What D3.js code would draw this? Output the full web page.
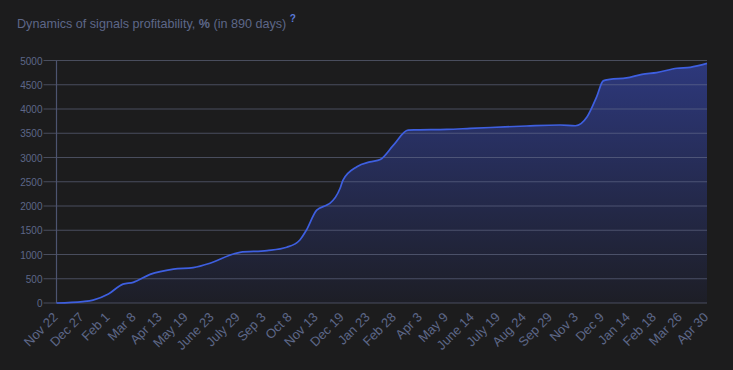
<!DOCTYPE html>
<html>
<head>
  <meta charset="utf-8" />
  <script src="https://d3js.org/d3.v7.min.js"></script>
  <style>
    body { margin: 0; background: #1c1c1d; }
    svg { display: block; font-family: "Liberation Sans", Arial, sans-serif; }
  </style>
</head>
<body>
  <svg id="chart" width="733" height="370"></svg>
  <script>
    // tick labels along the bottom (evenly spaced over the 890 days)
    const tickLabels = ["Nov 22", "Dec 27", "Feb 1", "Mar 8", "Apr 13", "May 19", "June 23", "July 29",
      "Sep 3", "Oct 8", "Nov 13", "Dec 19", "Jan 23", "Feb 28", "Apr 3", "May 9", "June 14", "July 19",
      "Aug 24", "Sep 29", "Nov 3", "Dec 9", "Jan 14", "Feb 18", "Mar 26", "Apr 30"];
    const totalDays = 890;

    // profitability series: day offset and value in %
    const days = [0, 36, 50, 71, 91, 105, 128, 160, 187, 210, 242, 251, 288, 315, 333, 342, 356, 370,
      374, 388, 392, 411, 429, 443, 461, 481, 493, 534, 566, 643, 689, 710, 726, 739, 748, 757, 780,
      801, 821, 849, 867, 890];
    const profit = [0, 30, 60, 185, 390, 425, 590, 700, 730, 820, 1010, 1045, 1080, 1150, 1300, 1505,
      1915, 2020, 2055, 2365, 2535, 2810, 2910, 2960, 3255, 3565, 3570, 3580, 3600, 3650, 3670, 3655,
      3840, 4250, 4580, 4610, 4640, 4715, 4750, 4840, 4860, 4940];

    const yTicks = d3.range(0, 5001, 500);

    const svg = d3.select("#chart");
    const margin = { top: 60.5, right: 26, bottom: 67, left: 56.5 };
    const width = 733, height = 370;

    const x = d3.scaleLinear().domain([0, totalDays]).range([margin.left, width - margin.right]);
    const y = d3.scaleLinear().domain([0, 5000]).range([height - margin.bottom, margin.top]);

    const data = days.map((d, i) => ({ day: d, value: profit[i] }));

    // title
    const title = svg.append("text")
      .attr("x", 17).attr("y", 28)
      .attr("font-size", 12.6)
      .attr("fill", "#5d6788");
    title.append("tspan").text("Dynamics of signals profitability, ");
    title.append("tspan").attr("font-weight", "bold").text("%");
    title.append("tspan").text(" (in 890 days) ");
    title.append("tspan").attr("font-weight", "bold").attr("fill", "#5a7ad8")
      .attr("font-size", 10).attr("dy", -6).text("?");

    const defs = svg.append("defs");
    const grad = defs.append("linearGradient").attr("id", "fill")
      .attr("x1", 0).attr("y1", 0).attr("x2", 0).attr("y2", 1);
    grad.append("stop").attr("offset", "0%").attr("stop-color", "#2d387c");
    grad.append("stop").attr("offset", "100%").attr("stop-color", "#1d1e26");

    // area + line
    const area = d3.area().curve(d3.curveMonotoneX)
      .x(d => x(d.day)).y0(y(0)).y1(d => y(d.value));
    const line = d3.line().curve(d3.curveMonotoneX)
      .x(d => x(d.day)).y(d => y(d.value));

    svg.append("path").datum(data)
      .attr("d", area)
      .attr("fill", "url(#fill)");

    // gridlines with tick stubs to the left, drawn over the area
    svg.append("g").selectAll("line")
      .data(yTicks)
      .join("line")
      .attr("x1", margin.left - 13).attr("x2", width - margin.right)
      .attr("y1", d => y(d)).attr("y2", d => y(d))
      .attr("stroke", "rgba(112,118,145,0.55)").attr("stroke-width", 1.2);

    svg.append("g").selectAll("text")
      .data(yTicks)
      .join("text")
      .attr("x", margin.left - 14).attr("y", d => y(d) + 4)
      .attr("text-anchor", "end")
      .attr("font-size", 10)
      .attr("fill", "#5d6788")
      .text(d => d);

    // left axis line
    svg.append("line")
      .attr("x1", margin.left).attr("x2", margin.left)
      .attr("y1", margin.top).attr("y2", y(0))
      .attr("stroke", "#4d5470").attr("stroke-width", 1.2);

    svg.append("path").datum(data)
      .attr("d", line)
      .attr("fill", "none")
      .attr("stroke", "#3e5fe0")
      .attr("stroke-width", 1.7);

    // x labels
    const step = totalDays / (tickLabels.length - 1);
    svg.append("g").selectAll("text")
      .data(tickLabels)
      .join("text")
      .attr("transform", (d, i) => "translate(" + (x(i * step) + 2) + "," + (y(0) + 15) + ") rotate(-45)")
      .attr("text-anchor", "end")
      .attr("font-size", 13)
      .attr("fill", "#5d6788")
      .text(d => d);
  </script>
</body>
</html>
